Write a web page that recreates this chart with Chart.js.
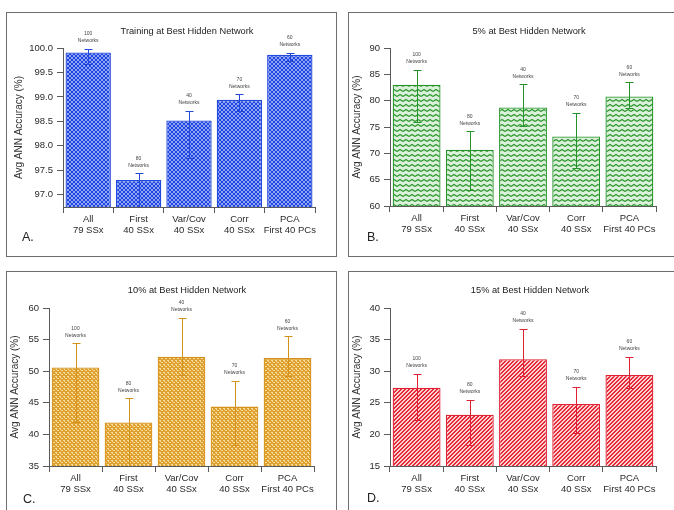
<!DOCTYPE html>
<html>
<head>
<meta charset="utf-8">
<script src="https://cdn.jsdelivr.net/npm/chart.js@4.4.1/dist/chart.umd.min.js"></script>
<style>
  body { margin: 0; width: 674px; height: 510px; overflow: hidden; position: relative; background: #fff;
         font-family: "Liberation Sans", Arial, sans-serif; }
  .frame { position: absolute; border: 1px solid #6e6e6e; box-sizing: border-box; }
  canvas { position: absolute; }
  .tag { position: absolute; font-size: 12.5px; line-height: 12.5px; color: #222; }
</style>
</head>
<body>
<div class="frame" style="left:6px;top:12px;width:331px;height:245px"></div>
<div class="frame" style="left:348px;top:12px;width:340px;height:245px"></div>
<div class="frame" style="left:6px;top:271px;width:331px;height:260px"></div>
<div class="frame" style="left:348px;top:271px;width:340px;height:260px"></div>

<canvas id="chartA" width="328" height="242" style="left:7px;top:13px"></canvas>
<canvas id="chartB" width="325" height="242" style="left:349px;top:13px"></canvas>
<canvas id="chartC" width="328" height="238" style="left:7px;top:272px"></canvas>
<canvas id="chartD" width="325" height="238" style="left:349px;top:272px"></canvas>

<div class="tag" style="left:22px;top:231px">A.</div>
<div class="tag" style="left:367px;top:231px">B.</div>
<div class="tag" style="left:23px;top:493px">C.</div>
<div class="tag" style="left:367px;top:492px">D.</div>

<script>
// categories and counts shared by all four panels
var categories = [['All', '79 SSx'], ['First', '40 SSx'], ['Var/Cov', '40 SSx'], ['Corr', '40 SSx'], ['PCA', 'First 40 PCs']];
var networkCounts = [100, 80, 40, 70, 60];

// A. training
var trainMean = [99.91, 97.30, 98.52, 98.94, 99.86];
var trainHigh = [99.98, 97.44, 98.71, 99.05, 99.90];
var trainLow  = [99.68, 96.70, 97.75, 98.72, 99.74];
var trainTicks = [97.0, 97.5, 98.0, 98.5, 99.0, 99.5, 100.0];

// B. 5%
var fiveMean = [83.0, 70.7, 78.7, 73.2, 80.8];
var fiveHigh = [85.8, 74.2, 83.1, 77.7, 83.5];
var fiveLow  = [76.0, 63.1, 75.2, 67.3, 78.7];
var fiveTicks = [60, 65, 70, 75, 80, 85, 90];

// C. 10%
var tenMean = [50.6, 41.9, 52.3, 44.4, 52.1];
var tenHigh = [54.4, 45.7, 58.4, 48.5, 55.5];
var tenLow  = [42.0, 34.8, 49.4, 38.4, 49.3];
var tenTicks = [35, 40, 45, 50, 55, 60];

// D. 15%
var fifteenMean = [27.4, 23.1, 31.9, 24.8, 29.4];
var fifteenHigh = [29.6, 25.5, 36.7, 27.5, 32.3];
var fifteenLow  = [22.2, 18.3, 29.3, 20.3, 27.3];
var fifteenTicks = [15, 20, 25, 30, 35, 40];

Chart.defaults.font.family = '"Liberation Sans", Arial, sans-serif';

function makePattern(w, h, draw) {
    var c = document.createElement('canvas');
    c.width = w; c.height = h;
    var g = c.getContext('2d');
    draw(g);
    return g.createPattern(c, 'repeat');
}

var checkerBlue = makePattern(4, 4, function (g) {
    g.fillStyle = '#1f46e0'; g.fillRect(0, 0, 4, 4);
    g.fillStyle = '#8ea4f2'; g.fillRect(0, 0, 2, 2); g.fillRect(2, 2, 2, 2);
});
var zigzagGreen = makePattern(6, 5, function (g) {
    g.fillStyle = '#dcf1dc'; g.fillRect(0, 0, 6, 5);
    g.strokeStyle = '#2a962a'; g.lineWidth = 1.2;
    g.beginPath(); g.moveTo(0, 3.5); g.lineTo(3, 1.5); g.lineTo(6, 3.5); g.stroke();
});
var dotsGold = makePattern(4, 4, function (g) {
    g.fillStyle = '#dfa030'; g.fillRect(0, 0, 4, 4);
    g.fillStyle = '#f8dc9c'; g.fillRect(0, 0, 2, 1); g.fillRect(2, 2, 2, 1); g.fillRect(1, 1, 1, 1);
});
var stripesRed = makePattern(4, 4, function (g) {
    for (var x = 0; x < 4; x++) {
        for (var y = 0; y < 4; y++) {
            g.fillStyle = (x + y) % 4 < 2 ? '#e42a36' : '#fbd0d3';
            g.fillRect(x, y, 1, 1);
        }
    }
});

var errorBars = {
    id: 'errorBars',
    afterDatasetsDraw: function (chart, args, o) {
        var ctx = chart.ctx, y = chart.scales.y, area = chart.chartArea;
        var bars = chart.getDatasetMeta(0).data;
        ctx.save();
        ctx.beginPath();
        ctx.rect(area.left, area.top - 20, area.right - area.left, area.bottom - area.top + 20);
        ctx.clip();
        ctx.strokeStyle = o.color;
        ctx.lineWidth = 1;
        bars.forEach(function (bar, i) {
            var x = Math.round(bar.x) + 0.5;
            var yh = Math.round(y.getPixelForValue(o.high[i])) + 0.5;
            var yl = Math.round(y.getPixelForValue(o.low[i])) + 0.5;
            ctx.beginPath();
            ctx.moveTo(x, yl); ctx.lineTo(x, yh);
            ctx.moveTo(x - 4, yh); ctx.lineTo(x + 4, yh);
            ctx.moveTo(x - 4, yl); ctx.lineTo(x + 4, yl);
            ctx.stroke();
        });
        ctx.restore();

        ctx.save();
        ctx.fillStyle = '#444';
        ctx.font = '5px "Liberation Sans", Arial, sans-serif';
        ctx.textAlign = 'center';
        ctx.textBaseline = 'middle';
        bars.forEach(function (bar, i) {
            var yh = y.getPixelForValue(o.high[i]);
            ctx.fillText(String(o.counts[i]), bar.x, yh - 15);
            ctx.fillText('Networks', bar.x, yh - 8);
        });
        ctx.restore();
    }
};

var panelTitle = {
    id: 'panelTitle',
    afterDraw: function (chart, args, o) {
        var ctx = chart.ctx;
        ctx.save();
        ctx.font = '9.25px "Liberation Sans", Arial, sans-serif';
        ctx.fillStyle = '#222';
        ctx.textAlign = 'center';
        ctx.textBaseline = 'middle';
        ctx.fillText(o.text, o.x, o.y);
        ctx.restore();
    }
};

var panels = [
    { id: 'chartA', left: 7, top: 13, w: 328, h: 242, l: 63, r: 315, t: 48, b: 207, pad: 6,
      title: 'Training at Best Hidden Network', tx: 187, ty: 31,
      mean: trainMean, high: trainHigh, low: trainLow, ticks: trainTicks, min: 96.75, max: 100, dec: 1,
      fill: checkerBlue, line: '#2248dc' },
    { id: 'chartB', left: 349, top: 13, w: 325, h: 242, l: 390, r: 656, t: 48, b: 206, pad: 2.7,
      title: '5% at Best Hidden Network', tx: 529, ty: 31,
      mean: fiveMean, high: fiveHigh, low: fiveLow, ticks: fiveTicks, min: 60, max: 90, dec: 0,
      fill: zigzagGreen, line: '#26932a' },
    { id: 'chartC', left: 7, top: 272, w: 328, h: 238, l: 49, r: 314, t: 308, b: 466, pad: 2,
      title: '10% at Best Hidden Network', tx: 187, ty: 290,
      mean: tenMean, high: tenHigh, low: tenLow, ticks: tenTicks, min: 35, max: 60, dec: 0,
      fill: dotsGold, line: '#d4921a' },
    { id: 'chartD', left: 349, top: 272, w: 325, h: 238, l: 390, r: 656, t: 308, b: 466, pad: 2.7,
      title: '15% at Best Hidden Network', tx: 530, ty: 290,
      mean: fifteenMean, high: fifteenHigh, low: fifteenLow, ticks: fifteenTicks, min: 15, max: 40, dec: 0,
      fill: stripesRed, line: '#de2234' }
];

var X_AXIS_H = 30;

panels.forEach(function (p) {
    new Chart(p.id, {
        type: 'bar',
        data: {
            labels: categories,
            datasets: [{
                data: p.mean,
                backgroundColor: p.fill,
                borderColor: p.line,
                borderWidth: 1.3,
                categoryPercentage: 0.9,
                barPercentage: 1
            }]
        },
        options: {
            responsive: false,
            animation: false,
            layout: {
                padding: {
                    left: p.pad,
                    top: p.t - p.top,
                    right: p.w - (p.r - p.left),
                    bottom: p.h - (p.b - p.top) - X_AXIS_H
                }
            },
            plugins: {
                legend: { display: false },
                tooltip: { enabled: false },
                errorBars: { high: p.high, low: p.low, counts: networkCounts, color: p.line },
                panelTitle: { text: p.title, x: p.tx - p.left, y: p.ty - p.top }
            },
            scales: {
                x: {
                    afterFit: function (s) { s.height = X_AXIS_H; },
                    ticks: { color: '#2a2a2a', font: { size: 9.5, lineHeight: 1.25 }, padding: 0, autoSkip: false, maxRotation: 0 },
                    grid: { drawOnChartArea: false, drawTicks: true, tickLength: 6, color: '#5a5a5a', offset: true },
                    border: { display: true, color: '#5a5a5a' }
                },
                y: {
                    min: p.min,
                    max: p.max,
                    afterBuildTicks: function (s) { s.ticks = p.ticks.map(function (v) { return { value: v }; }); },
                    afterFit: function (s) { s.width = p.l - p.left - p.pad; },
                    ticks: {
                        color: '#2a2a2a', font: { size: 9.5 }, padding: 4,
                        callback: function (v) { return p.dec ? Number(v).toFixed(1) : String(v); }
                    },
                    grid: { drawOnChartArea: false, drawTicks: true, tickLength: 6, color: '#5a5a5a' },
                    border: { display: true, color: '#5a5a5a' },
                    title: { display: true, text: 'Avg ANN Accuracy (%)', color: '#333', font: { size: 10 }, padding: { top: 0, bottom: 0 } }
                }
            }
        },
        plugins: [errorBars, panelTitle]
    });
});
</script>
</body>
</html>
